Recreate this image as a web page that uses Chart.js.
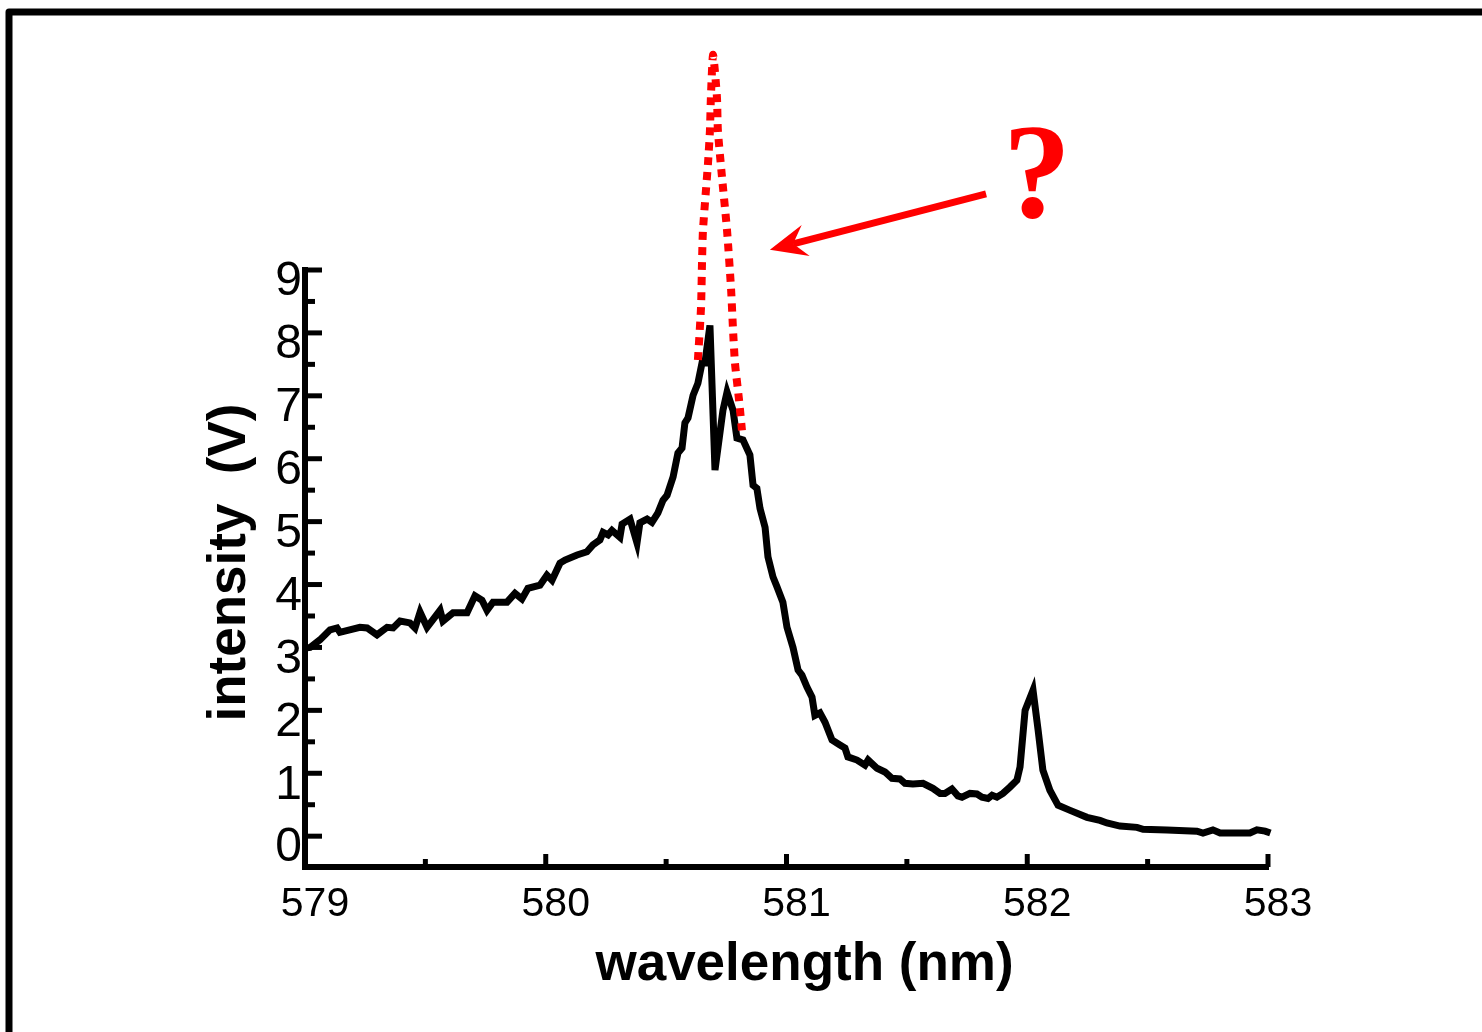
<!DOCTYPE html>
<html>
<head>
<meta charset="utf-8">
<script src="https://cdn.jsdelivr.net/npm/chart.js@4.4.0/dist/chart.umd.min.js"></script>
<style>
    body { margin: 0; background: #fff; }
    canvas { display: block; }
</style>
</head>
<body>
<canvas id="spectrumChart" width="1482" height="1032"></canvas>
<script>
// measured spectrum (black)
const waveBlack = [579.000, 579.021, 579.062, 579.104, 579.133, 579.145, 579.228, 579.258, 579.299, 579.341,
    579.366, 579.395, 579.436, 579.457, 579.478, 579.507, 579.561, 579.573, 579.615, 579.673,
    579.706, 579.735, 579.756, 579.781, 579.839, 579.872, 579.901, 579.926, 579.976, 580.005,
    580.026, 580.059, 580.080, 580.130, 580.171, 580.196, 580.225, 580.238, 580.259, 580.275,
    580.308, 580.317, 580.350, 580.379, 580.391, 580.421, 580.441, 580.466, 580.487, 580.504,
    580.529, 580.549, 580.566, 580.578, 580.591, 580.612, 580.632, 580.649, 580.661, 580.682,
    580.703, 580.736, 580.753, 580.778, 580.794, 580.819, 580.848, 580.861, 580.877, 580.890,
    580.911, 580.923, 580.944, 580.961, 580.985, 581.002, 581.027, 581.048, 581.064, 581.085,
    581.106, 581.118, 581.139, 581.160, 581.189, 581.222, 581.243, 581.255, 581.293, 581.326,
    581.339, 581.376, 581.409, 581.438, 581.471, 581.492, 581.525, 581.567, 581.608, 581.638,
    581.658, 581.687, 581.712, 581.729, 581.762, 581.791, 581.812, 581.837, 581.854, 581.874,
    581.899, 581.928, 581.957, 581.970, 581.991, 582.024, 582.045, 582.065, 582.094, 582.128,
    582.178, 582.248, 582.302, 582.331, 582.385, 582.456, 582.481, 582.580, 582.705, 582.730,
    582.771, 582.801, 582.925, 582.954, 582.988, 583.010];
const intBlack = [2.99, 3.00, 3.12, 3.28, 3.31, 3.24, 3.32, 3.31, 3.20, 3.32,
    3.31, 3.42, 3.39, 3.31, 3.56, 3.32, 3.59, 3.42, 3.55, 3.55,
    3.82, 3.75, 3.59, 3.72, 3.72, 3.86, 3.77, 3.94, 3.99, 4.15,
    4.07, 4.34, 4.39, 4.47, 4.52, 4.63, 4.71, 4.83, 4.79, 4.86,
    4.75, 4.96, 5.04, 4.66, 4.98, 5.04, 4.99, 5.14, 5.34, 5.42,
    5.71, 6.09, 6.17, 6.57, 6.65, 7.01, 7.20, 7.52, 7.52, 8.12,
    5.82, 6.77, 7.06, 6.77, 6.33, 6.30, 6.06, 5.58, 5.53, 5.21,
    4.91, 4.44, 4.12, 3.96, 3.72, 3.32, 3.00, 2.64, 2.56, 2.37,
    2.21, 1.92, 1.96, 1.81, 1.53, 1.45, 1.40, 1.26, 1.21, 1.13,
    1.21, 1.08, 1.02, 0.92, 0.91, 0.84, 0.83, 0.84, 0.76, 0.68,
    0.68, 0.75, 0.64, 0.62, 0.68, 0.67, 0.62, 0.60, 0.65, 0.62,
    0.68, 0.78, 0.89, 1.10, 2.00, 2.32, 1.69, 1.05, 0.73, 0.49,
    0.41, 0.30, 0.25, 0.21, 0.16, 0.14, 0.11, 0.10, 0.08, 0.05,
    0.10, 0.05, 0.05, 0.10, 0.08, 0.05];

// guessed peak (red dotted)
const waveRed = [580.632, 580.645, 580.649, 580.653, 580.674, 580.682, 580.686, 580.695, 580.711,
    580.715, 580.732, 580.753, 580.770, 580.778, 580.786, 580.803, 580.815];
const intRed = [7.57, 8.41, 9.11, 9.63, 10.70, 11.22, 11.75, 12.42, 11.75,
    11.22, 10.48, 9.63, 8.68, 8.04, 7.52, 6.93, 6.45];

const xTicks = [579, 580, 581, 582, 583];
const xMinor = [579.5, 580.5, 581.5, 582.5];
const yTicks = [0, 1, 2, 3, 4, 5, 6, 7, 8, 9];
const yMinor = [0.5, 1.5, 2.5, 3.5, 4.5, 5.5, 6.5, 7.5, 8.5];

// arrow + question mark, in data units
const arrowFrom = { x: 581.829, y: 10.21 };
const arrowTo = { x: 580.931, y: 9.32 };
const questionAt = { x: 582.04, y: 9.84 };

function toPoints(xs, ys) {
    return xs.map((x, i) => ({ x: x, y: ys[i] }));
}

const extrasPlugin = {
    id: 'extras',
    beforeDraw(chart) {
        const ctx = chart.ctx;
        ctx.save();
        ctx.fillStyle = '#fff';
        ctx.fillRect(0, 0, chart.width, chart.height);
        // outer frame (cut off on the right and bottom)
        ctx.strokeStyle = '#000';
        ctx.lineWidth = 7;
        ctx.lineJoin = 'round';
        ctx.strokeRect(9, 12, 1600, 1200);
        ctx.restore();
    },
    beforeDatasetsDraw(chart) {
        const { ctx, chartArea, scales } = chart;
        ctx.save();
        ctx.strokeStyle = '#000';
        ctx.lineWidth = 5;
        const left = chartArea.left;
        const bottom = chartArea.bottom;
        // inward ticks on the y axis
        yTicks.forEach(v => {
            const py = scales.y.getPixelForValue(v);
            ctx.beginPath(); ctx.moveTo(left, py); ctx.lineTo(left + 17, py); ctx.stroke();
        });
        yMinor.forEach(v => {
            const py = scales.y.getPixelForValue(v);
            ctx.beginPath(); ctx.moveTo(left, py); ctx.lineTo(left + 10, py); ctx.stroke();
        });
        // upward ticks on the x axis
        xTicks.forEach(v => {
            const px = scales.x.getPixelForValue(v);
            ctx.beginPath(); ctx.moveTo(px, bottom); ctx.lineTo(px, bottom - 13); ctx.stroke();
        });
        xMinor.forEach(v => {
            const px = scales.x.getPixelForValue(v);
            ctx.beginPath(); ctx.moveTo(px, bottom); ctx.lineTo(px, bottom - 8); ctx.stroke();
        });
        ctx.restore();
    },
    afterDraw(chart) {
        const { ctx, chartArea, scales } = chart;
        ctx.save();

        // axis titles
        ctx.fillStyle = '#000';
        ctx.font = 'bold 53px "Liberation Sans", Arial, sans-serif';
        ctx.textAlign = 'center';
        ctx.textBaseline = 'alphabetic';
        ctx.fillText('wavelength (nm)', (chartArea.left + chartArea.right) / 2 + 18, 980);

        ctx.save();
        ctx.translate(245, (chartArea.top + chartArea.bottom) / 2 - 6);
        ctx.rotate(-Math.PI / 2);
        ctx.fillText('intensity  (V)', 0, 0);
        ctx.restore();

        // red arrow
        const x0 = scales.x.getPixelForValue(arrowFrom.x);
        const y0 = scales.y.getPixelForValue(arrowFrom.y);
        const x1 = scales.x.getPixelForValue(arrowTo.x);
        const y1 = scales.y.getPixelForValue(arrowTo.y);
        const len = Math.hypot(x0 - x1, y0 - y1);
        const ux = (x0 - x1) / len, uy = (y0 - y1) / len;
        const nx = -uy, ny = ux;
        const headLen = 37, headHalf = 16, notch = 24;
        ctx.strokeStyle = '#ff0000';
        ctx.fillStyle = '#ff0000';
        ctx.lineWidth = 7;
        ctx.beginPath();
        ctx.moveTo(x0, y0);
        ctx.lineTo(x1 + ux * notch, y1 + uy * notch);
        ctx.stroke();
        ctx.beginPath();
        ctx.moveTo(x1, y1);
        ctx.lineTo(x1 + ux * headLen + nx * headHalf, y1 + uy * headLen + ny * headHalf);
        ctx.lineTo(x1 + ux * notch, y1 + uy * notch);
        ctx.lineTo(x1 + ux * headLen - nx * headHalf, y1 + uy * headLen - ny * headHalf);
        ctx.closePath();
        ctx.fill();

        // question mark
        ctx.font = 'bold 136px "Liberation Serif", "Times New Roman", serif';
        ctx.textAlign = 'center';
        ctx.textBaseline = 'alphabetic';
        ctx.fillText('?', scales.x.getPixelForValue(questionAt.x), scales.y.getPixelForValue(questionAt.y));

        ctx.restore();
    }
};

const ctx = document.getElementById('spectrumChart').getContext('2d');
const spectrumChart = new Chart(ctx, {
    type: 'line',
    data: {
        datasets: [{
            label: 'measured',
            data: toPoints(waveBlack, intBlack),
            borderColor: '#000',
            borderWidth: 7,
            borderJoinStyle: 'miter',
            pointRadius: 0,
            tension: 0,
            clip: false,
            order: 1
        }, {
            label: 'expected',
            data: toPoints(waveRed, intRed),
            borderColor: '#ff0000',
            borderWidth: 8,
            borderDash: [8, 7],
            borderCapStyle: 'butt',
            pointRadius: 0,
            tension: 0.2,
            clip: false,
            order: 0
        }]
    },
    options: {
        responsive: false,
        animation: false,
        layout: { padding: { top: 270, right: 214, bottom: 0, left: 0 } },
        plugins: {
            legend: { display: false },
            tooltip: { enabled: false }
        },
        scales: {
            x: {
                type: 'linear',
                min: 579,
                max: 583,
                afterBuildTicks: scale => { scale.ticks = xTicks.map(v => ({ value: v })); },
                afterFit: scale => { scale.height = 165; },
                grid: { display: false, drawTicks: false },
                border: { display: true, color: '#000', width: 6 },
                ticks: {
                    color: '#000',
                    padding: 13,
                    labelOffset: 10,
                    maxRotation: 0,
                    font: { family: '"Liberation Sans", Arial, sans-serif', size: 41 }
                }
            },
            y: {
                type: 'linear',
                min: -0.49,
                max: 9,
                afterBuildTicks: scale => { scale.ticks = yTicks.map(v => ({ value: v })); },
                afterFit: scale => { scale.width = 305; },
                grid: { display: false, drawTicks: false },
                border: { display: true, color: '#000', width: 6 },
                ticks: {
                    color: '#000',
                    padding: 3,
                    labelOffset: 12,
                    font: { family: '"Liberation Sans", Arial, sans-serif', size: 48 }
                }
            }
        }
    },
    plugins: [extrasPlugin]
});
</script>
</body>
</html>
